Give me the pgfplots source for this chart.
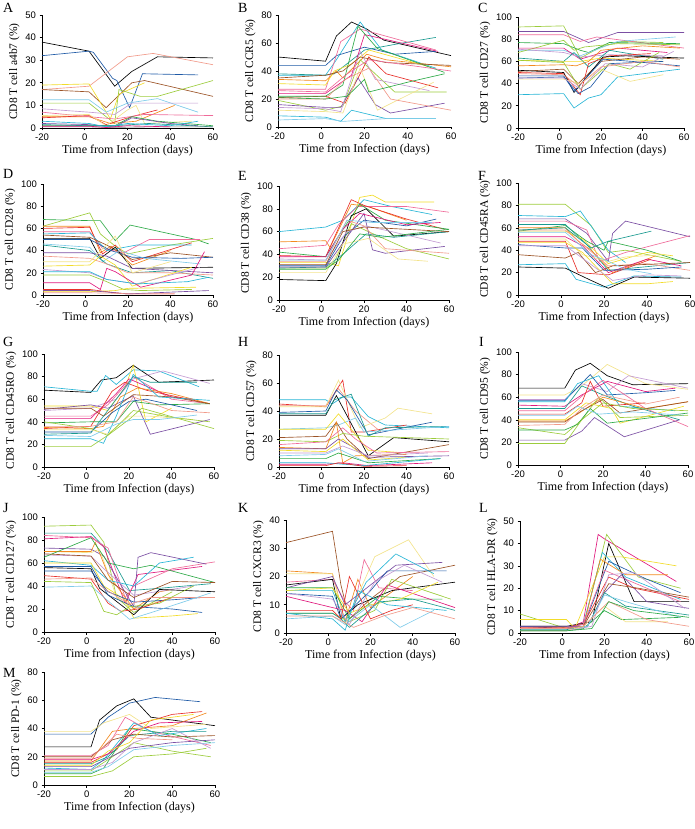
\documentclass[border=0pt]{standalone}
\usepackage{fontspec}
\setmainfont{Liberation Serif}
\newfontfamily\arial{Liberation Sans}
\usepackage{pgfplots}
\pgfplotsset{compat=1.18}
\definecolor{cK}{HTML}{000000}
\definecolor{cB}{HTML}{1F5AA6}
\definecolor{cC}{HTML}{29B6D6}
\definecolor{cLB}{HTML}{7FCBEA}
\definecolor{cT}{HTML}{1A9A90}
\definecolor{cR}{HTML}{E8302A}
\definecolor{cO}{HTML}{F28A1F}
\definecolor{cY}{HTML}{F2DC2A}
\definecolor{cLY}{HTML}{F3E38C}
\definecolor{cG}{HTML}{2EAA48}
\definecolor{cLG}{HTML}{9CCC3C}
\definecolor{cP}{HTML}{EF6B9A}
\definecolor{cM}{HTML}{E0197D}
\definecolor{cV}{HTML}{7B4FA3}
\definecolor{cLV}{HTML}{C39BD3}
\definecolor{cBr}{HTML}{9B5326}
\definecolor{cS}{HTML}{F19A8A}
\newcommand{\pl}[2]{\addplot[#1, line width=0.65pt, mark=none] coordinates {#2};}
\pgfplotsset{
  pan/.style={
    width=170pt, height=113pt, scale only axis, anchor=south west,
    xmin=-20, xmax=60, xtick={-20,0,20,40,60}, ymin=0,
    axis lines*=left, axis line style={line width=0.6pt},
    tick align=outside, major tick length=2.5pt, tick style={black, line width=0.6pt},
    /pgf/number format/assume math mode=true,
    tick label style={font=\arial\fontsize{9.5}{10}\selectfont},
    xlabel={Time from Infection (days)},
    xlabel style={font=\fontsize{12}{13}\selectfont, yshift=3pt},
    ylabel style={font=\fontsize{11.5}{12}\selectfont, yshift=-1pt},
    clip=false,
  }
}
\begin{document}
\begin{tikzpicture}
\useasboundingbox (0,0) rectangle (695pt,-829pt);
\tikzset{lett/.style={anchor=north west, font=\fontsize{14}{14}\selectfont, inner sep=0pt}}
\node[lett] at (3pt,-3pt) {A};
\node[lett] at (238pt,-3pt) {B};
\node[lett] at (478pt,-3pt) {C};
\node[lett] at (3pt,-169pt) {D};
\node[lett] at (238pt,-171pt) {E};
\node[lett] at (478pt,-171pt) {F};
\node[lett] at (3pt,-337pt) {G};
\node[lett] at (238pt,-337pt) {H};
\node[lett] at (479pt,-337pt) {I};
\node[lett] at (3pt,-503pt) {J};
\node[lett] at (238pt,-503pt) {K};
\node[lett] at (479pt,-503pt) {L};
\node[lett] at (3pt,-668pt) {M};

% ---------------- A
\begin{axis}[pan, at={(42pt,-128pt)}, width=171pt, ymax=50, ytick={0,10,...,50}, ylabel={CD8 T cell a4b7 (\%)}]
\pl{cK}{(-20,38)(2,34)(14,18.5)(22,25)(34,31.5)(60,31)}
\pl{cB}{(-20,32)(2,34)(4,33.5)(13,22)(15,21)(21,9)(27,24)(53,23.5)}
\pl{cS}{(-20,17)(2,18.5)(20,31.5)(32,33)(60,28)}
\pl{cBr}{(-20,17)(2,16)(10,9)(22,20)(28,21)(60,14)}
\pl{cY}{(-20,19)(2,19.5)(12,4)(16,15)(28,20)}
\pl{cLG}{(-20,11)(2,11)(14,2)(16,17)(26,14)(34,14)(60,21)}
\pl{cLB}{(-20,12.5)(2,12.5)(10,7)(20,11)(34,13)(53,7)}
\pl{cLV}{(-20,8.5)(2,7)(14,6)(22,11)(53,11)}
\pl{cO}{(-20,5)(2,5)(12,2)(24,3)(42,10)}
\pl{cR}{(-20,4.5)(2,5.5)(10,1.5)(22,5)(34,8)}
\pl{cP}{(-20,7)(2,5)(14,4)(28,6)(60,5.5)}
\pl{cLY}{(-20,5.5)(2,6)(10,1)(20,8)(24,10)(28,2)(50,3)}
\pl{cG}{(-20,1)(2,1)(14,1)(22,5)(34,3)(60,1)}
\pl{cV}{(-20,2)(2,1.5)(14,0.5)(22,4.5)(40,2)(53,1)}
\pl{cT}{(-20,1.5)(2,1)(14,1)(30,2)(60,0.5)}
\pl{gray}{(-20,0.5)(2,0.5)(14,0.3)(30,0.5)(60,0.5)}
\pl{cC}{(-20,3)(2,2)(10,0.5)(20,2)(40,1)(53,3)}
\pl{cM}{(-20,0.8)(2,0.8)(10,0.2)(20,1)(40,0.5)}
\end{axis}

% ---------------- B
\begin{axis}[pan, at={(278pt,-127pt)}, width=173pt, height=112pt, ymax=80, ytick={0,20,...,80}, ylabel={CD8 T cell CCR5 (\%)}]
\pl{cK}{(-20,50)(2,47)(7,65)(14,75)(21,70)(29,62)(60,51)}
\pl{cC}{(-20,37)(2,37)(7,48)(18,75)(28,55)(53,42)}
\pl{cB}{(-20,44)(2,44)(7,51)(20,57)(34,52)(53,54)}
\pl{cT}{(-20,38)(2,37)(6,38)(20,55)(34,59)(53,64)}
\pl{cP}{(-20,27)(2,27)(9,61)(18,70)(53,55)}
\pl{cM}{(-20,24)(2,24)(14,37)(20,66)(54,54)}
\pl{cO}{(-20,34)(2,33)(7,40)(10,35)(21,52)(30,48)(60,43)}
\pl{cY}{(-20,31)(2,30)(6,40)(14,45)(22,55)(50,43)}
\pl{cR}{(-20,21)(2,22)(11,17)(22,50)(30,38)(54,28)}
\pl{cG}{(-20,22)(2,22)(10,30)(17,72)(26,56)(57,39)}
\pl{cLG}{(-20,19)(2,12)(10,15)(18,48)(34,25)(58,25)}
\pl{cV}{(-20,16)(2,14)(9,14)(17,35)(25,16)(32,10)(57,17)}
\pl{cLV}{(-20,14)(2,13)(9,11)(18,54)(25,34)(50,26)}
\pl{cLY}{(-20,12)(2,11)(10,10)(18,42)(26,12)(52,32)}
\pl{cC}{(-20,8)(2,7)(9,4)(14,12)(30,6)(53,6)}
\pl{cLB}{(-20,5)(2,6)(10,4)(30,6)(53,6)}
\pl{cS}{(-20,20)(2,20)(11,34)(22,42)(32,20)(60,12)}
\pl{cBr}{(-20,35)(2,37)(10,40)(18,50)(30,46)(60,44)}
\pl{cP}{(-20,26)(2,25)(12,38)(22,48)(60,40)}
\pl{cG}{(-20,21)(2,20)(12,22)(20,34)(22,25)(40,32)(57,38)}
\end{axis}

% ---------------- C
\begin{axis}[pan, at={(518pt,-128pt)}, width=166pt, height=111pt, ymax=100, ytick={0,20,...,100}, ylabel={CD8 T cell CD27 (\%)}]
\pl{cLG}{(-20,91)(2,92)(10,63)(20,73)(30,78)(50,77)}
\pl{cV}{(-20,87)(2,87)(14,77)(28,86)(60,86)}
\pl{cP}{(-20,84)(2,84)(10,78)(18,82)(60,72)}
\pl{cG}{(-20,77)(2,76)(10,70)(14,68)(24,77)(58,76)}
\pl{cLB}{(-20,70)(2,70)(10,65)(28,78)(56,82)}
\pl{cLG}{(-20,68)(2,79)(7,70)(12,73)(28,76)(58,75)}
\pl{cM}{(-20,72)(2,72)(10,62)(28,72)(52,68)}
\pl{cLV}{(-20,71)(2,68)(10,64)(24,66)(50,65)}
\pl{cT}{(-20,63)(2,60)(7,68)(14,55)(24,70)(50,62)}
\pl{cY}{(-20,61)(2,60)(10,60)(20,63)(50,60)}
\pl{cO}{(-20,56)(2,57)(8,56)(14,60)(20,70)(40,74)(58,72)}
\pl{cBr}{(-20,51)(2,53)(9,40)(20,60)(40,64)(58,62)}
\pl{cR}{(-20,50)(2,49)(10,30)(14,58)(24,65)(44,67)}
\pl{cK}{(-20,52)(2,50)(7,32)(21,64)(32,65)(60,63)}
\pl{cB}{(-20,47)(2,47)(7,33)(21,62)(35,60)(58,56)}
\pl{cB}{(-20,45)(2,46)(9,31)(15,37)(24,58)(50,60)}
\pl{cC}{(-20,30)(2,31)(7,18)(14,27)(20,30)(28,46)(58,53)}
\pl{cLY}{(-20,44)(2,44)(10,40)(20,53)(34,42)(50,48)}
\pl{cLG}{(-20,61)(2,59)(10,35)(24,58)(34,53)(48,68)}
\pl{cLV}{(-20,45)(2,45)(10,35)(22,58)(40,55)(55,69)}
\pl{cS}{(-20,49)(2,48)(9,38)(20,55)(40,60)(58,55)}
\end{axis}

% ---------------- D
\begin{axis}[pan, at={(43pt,-295pt)}, width=170pt, height=111pt, ymax=100, ytick={0,20,...,100}, ylabel={CD8 T cell CD28 (\%)}]
\pl{cG}{(-20,68)(2,67)(7,67)(14,49)(21,63)(52,50)(58,46)}
\pl{cLG}{(-20,62)(2,74)(7,55)(14,44)(20,37)(40,45)(60,51)}
\pl{cO}{(-20,62)(2,62)(7,38)(12,44)(22,27)(40,40)}
\pl{cR}{(-20,60)(2,61)(8,37)(14,45)(22,30)(50,47)}
\pl{cP}{(-20,57)(2,57)(8,42)(18,38)(30,50)(54,50)}
\pl{cC}{(-20,55)(2,56)(10,40)(24,45)(50,45)}
\pl{cBr}{(-20,54)(2,52)(10,45)(22,32)(40,38)(60,34)}
\pl{cK}{(-20,51)(2,51)(7,33)(14,43)(22,24)(60,25)}
\pl{cB}{(-20,50)(2,50)(12,40)(22,34)(45,33)(60,34)}
\pl{cLB}{(-20,46)(2,43)(8,30)(16,40)(28,33)(54,28)}
\pl{cT}{(-20,45)(2,40)(10,28)(22,20)(40,22)(60,15)}
\pl{cV}{(-20,38)(2,38)(10,35)(22,24)(60,20)}
\pl{cS}{(-20,35)(2,33)(10,28)(20,20)(40,20)(60,18)}
\pl{cY}{(-20,26)(2,27)(7,35)(14,27)(22,8)(50,25)}
\pl{cLY}{(-20,30)(2,30)(14,53)(22,20)(40,30)}
\pl{cLV}{(-20,23)(2,20)(10,14)(24,10)(40,18)(54,25)}
\pl{cM}{(-20,11)(2,11)(7,5)(10,24)(14,21)(26,7)(50,18)(56,39)}
\pl{cLG}{(-20,18)(2,18)(10,12)(18,5)(26,4)(50,5)}
\pl{cC}{(-20,21)(2,21)(10,14)(24,10)(48,12)(58,16)}
\pl{cR}{(-20,5)(2,5)(14,2)(20,1)(42,1)}
\pl{cY}{(-20,3)(2,3)(14,4)(20,6)(52,7)}
\pl{cV}{(-20,4)(2,4)(14,2)(20,1)(58,4)}
\pl{cS}{(-20,2)(2,2)(16,1.5)(20,1)(42,1)}
\end{axis}

% ---------------- E
\begin{axis}[pan, at={(279pt,-300pt)}, width=170pt, height=114pt, ymax=100, ytick={0,20,...,100}, ylabel={CD8 T cell CD38 (\%)}]
\pl{cC}{(-20,60)(2,64)(10,70)(20,88)(33,82)(52,75)}
\pl{cO}{(-20,51)(2,52)(4,46)(14,84)(22,82)(40,70)}
\pl{cY}{(-20,33)(2,33)(8,30)(18,90)(24,92)(30,86)(53,86)}
\pl{cP}{(-20,45)(2,48)(8,66)(17,82)(40,82)(60,77)}
\pl{cR}{(-20,39)(2,38)(14,88)(20,83)(40,71)(58,62)}
\pl{cG}{(-20,42)(2,38)(8,56)(18,84)(30,70)(60,62)}
\pl{cLG}{(-20,28)(2,28)(6,33)(14,67)(22,60)(40,45)(60,36)}
\pl{cK}{(-20,18)(2,17)(7,32)(14,74)(21,80)(34,56)(60,60)}
\pl{cB}{(-20,30)(2,30)(10,55)(20,70)(40,65)(54,71)}
\pl{cT}{(-20,28)(2,29)(10,40)(21,58)(34,55)(60,60)}
\pl{cV}{(-20,29)(2,29)(10,50)(20,76)(24,44)(30,41)(58,47)}
\pl{cLV}{(-20,36)(2,35)(12,60)(21,65)(40,57)(56,50)}
\pl{cLY}{(-20,24)(2,24)(10,49)(22,54)(36,36)(50,34)}
\pl{cM}{(-20,38)(2,38)(10,62)(18,76)(40,66)(56,68)}
\pl{cBr}{(-20,31)(2,31)(10,60)(20,64)(60,60)}
\pl{cS}{(-20,34)(2,34)(12,70)(20,65)(30,45)(60,41)}
\pl{cLB}{(-20,35)(2,35)(12,70)(24,68)(52,68)}
\pl{cG}{(-20,27)(2,27)(8,35)(18,58)(28,55)(60,62)}
\end{axis}

% ---------------- F
\begin{axis}[pan, at={(518pt,-295pt)}, width=172pt, height=112pt, ymax=100, ytick={0,20,...,100}, ylabel={CD8 T cell CD45RA (\%)}]
\pl{cLG}{(-20,81)(2,81)(14,62)(22,38)(30,40)(56,30)}
\pl{cC}{(-20,71)(2,70)(9,75)(22,40)(30,29)}
\pl{cV}{(-20,68)(2,68)(12,55)(22,30)(24,55)(30,66)(60,52)}
\pl{cP}{(-20,66)(2,66)(12,58)(18,30)(30,38)(60,53)}
\pl{cG}{(-20,57)(2,62)(12,48)(20,40)(22,48)(40,40)(56,30)}
\pl{cT}{(-20,63)(2,63)(12,45)(22,22)(60,29)}
\pl{cO}{(-20,60)(2,60)(8,48)(14,40)(24,20)(44,35)}
\pl{cY}{(-20,57)(2,57)(10,50)(22,28)(40,38)(52,35)}
\pl{cS}{(-20,58)(2,58)(12,42)(22,26)(40,28)(60,22)}
\pl{cM}{(-20,52)(2,52)(10,44)(22,20)(40,32)(56,26)}
\pl{cR}{(-20,48)(2,48)(8,20)(22,18)(32,25)(42,32)}
\pl{cLY}{(-20,50)(2,50)(10,36)(22,30)(30,34)(48,36)}
\pl{cB}{(-20,45)(2,42)(10,42)(20,22)(40,23)(56,25)}
\pl{cBr}{(-20,36)(2,33)(8,38)(16,20)(24,26)(60,29)}
\pl{cC}{(-20,27)(2,28)(7,14)(20,7)(34,17)(56,16)}
\pl{cY}{(-20,47)(2,47)(10,38)(24,10)(40,10)(52,12)}
\pl{cLV}{(-20,44)(2,44)(12,30)(24,13)(40,18)(56,17)}
\pl{cLB}{(-20,56)(2,56)(14,36)(22,30)(30,23)(42,19)}
\pl{cT}{(-20,58)(2,60)(14,42)(22,48)(42,57)}
\pl{cK}{(-20,25)(2,24)(14,13)(22,6)(34,16)(60,15)}
\end{axis}

% ---------------- G
\begin{axis}[pan, at={(44pt,-467pt)}, width=170pt, height=113pt, ymax=100, ytick={0,20,...,100}, ylabel={CD8 T cell CD45RO (\%)}]
\pl{cK}{(-20,68)(2,66)(7,77)(14,79)(22,90)(34,75)(60,77)}
\pl{cC}{(-20,71)(2,67)(5,67)(9,81)(14,73)(22,86)(34,85)(53,71)}
\pl{cY}{(-20,54)(2,54)(10,50)(18,70)(22,90)(28,40)(40,52)}
\pl{cV}{(-20,51)(2,55)(10,52)(22,63)(30,29)(58,42)}
\pl{cLV}{(-20,50)(2,52)(14,60)(22,78)(36,85)(58,74)}
\pl{cP}{(-20,45)(2,45)(10,55)(22,80)(40,60)(58,56)}
\pl{cM}{(-20,43)(2,43)(14,65)(20,78)(40,62)(50,60)}
\pl{cR}{(-20,34)(2,36)(12,67)(18,75)(28,68)(58,56)}
\pl{cO}{(-20,35)(2,34)(8,36)(16,62)(24,70)(40,65)(58,56)}
\pl{cG}{(-20,39)(2,40)(14,40)(22,58)(34,55)(58,56)}
\pl{cLG}{(-20,40)(2,34)(10,28)(20,42)(26,52)(60,34)}
\pl{cBr}{(-20,52)(2,52)(8,45)(22,64)(40,62)(58,56)}
\pl{cB}{(-20,31)(2,31)(12,48)(20,58)(28,60)(52,50)}
\pl{cT}{(-20,29)(2,30)(8,45)(22,80)(30,75)(52,75)}
\pl{cC}{(-20,25)(2,25)(8,21)(14,45)(22,82)(34,62)(58,59)}
\pl{cLY}{(-20,33)(2,33)(10,29)(20,45)(30,45)(50,42)}
\pl{cLG}{(-20,18)(2,18)(10,28)(22,50)(40,44)(58,40)}
\pl{cS}{(-20,36)(2,36)(14,40)(22,62)(40,50)(58,48)}
\pl{cLB}{(-20,28)(2,27)(14,38)(22,42)(34,42)(52,46)}
\end{axis}

% ---------------- H
\begin{axis}[pan, at={(279pt,-467pt)}, width=170pt, height=112pt, ymax=80, ytick={0,20,...,80}, ylabel={CD8 T cell CD57 (\%)}]
\pl{cC}{(-20,48)(2,48)(5,45)(10,50)(14,50)(22,36)(30,30)(60,28)}
\pl{cR}{(-20,45)(2,43)(10,62)(14,25)(20,25)(40,30)}
\pl{cS}{(-20,44)(2,44)(8,56)(16,40)(28,25)}
\pl{cLY}{(-20,43)(2,43)(8,62)(18,28)(30,35)(36,42)(52,38)}
\pl{cB}{(-20,39)(2,40)(7,55)(12,48)(22,23)(52,32)}
\pl{cK}{(-20,37)(2,37)(7,51)(22,8)(34,21)(60,18)}
\pl{cT}{(-20,38)(2,38)(6,48)(14,52)(22,22)(30,28)(60,29)}
\pl{cLB}{(-20,27)(2,28)(8,30)(16,35)(20,25)(60,29)}
\pl{cY}{(-20,27)(2,27)(8,38)(22,12)(40,10)}
\pl{cBr}{(-20,21)(2,22)(7,32)(12,20)(22,6)(60,16)}
\pl{cLG}{(-20,19)(2,18)(10,24)(20,22)(60,20)}
\pl{cP}{(-20,16)(2,18)(10,28)(16,20)(26,10)(60,11)}
\pl{cO}{(-20,14)(2,13)(7,32)(10,3)(16,8)(40,9)}
\pl{cV}{(-20,13)(2,13)(8,20)(14,15)(22,7)(60,8)}
\pl{cY}{(-20,12)(2,11)(10,20)(22,5)(40,7)}
\pl{cLV}{(-20,10)(2,10)(10,15)(22,8)(50,10)}
\pl{cG}{(-20,6)(2,6)(8,10)(22,3)(56,6)}
\pl{cLB}{(-20,8)(2,9)(8,13)(20,4)(50,8)}
\pl{cM}{(-20,2)(2,2)(10,3)(22,1)(52,3)}
\pl{cC}{(-20,3)(2,3)(10,2)(20,1)(56,6)}
\pl{cR}{(-20,1)(2,1)(8,3)(20,0.5)(40,1)}
\end{axis}

% ---------------- I
\begin{axis}[pan, at={(518pt,-465pt)}, width=170pt, height=113pt, ymax=100, ytick={0,20,...,100}, ylabel={CD8 T cell CD95 (\%)}]
\pl{cK}{(-20,68)(2,68)(7,84)(14,90)(22,79)(34,71)(60,72)}
\pl{cLY}{(-20,62)(2,62)(10,70)(22,89)(40,72)(60,67)}
\pl{cLV}{(-20,58)(2,58)(10,72)(22,65)(32,79)(60,68)}
\pl{cB}{(-20,57)(2,57)(14,80)(22,62)(40,64)(54,66)}
\pl{cC}{(-20,56)(2,56)(8,72)(18,79)(28,52)(54,48)}
\pl{cM}{(-20,53)(2,52)(10,62)(22,74)(40,65)(54,68)}
\pl{cT}{(-20,50)(2,50)(10,70)(20,62)(34,52)(56,40)}
\pl{cP}{(-20,48)(2,48)(12,64)(20,75)(40,50)(60,34)}
\pl{cR}{(-20,45)(2,45)(10,55)(14,74)(20,52)(40,55)}
\pl{cO}{(-20,39)(2,39)(8,45)(20,60)(40,50)(60,56)}
\pl{cBr}{(-20,38)(2,38)(10,48)(20,58)(28,46)(60,56)}
\pl{cY}{(-20,40)(2,40)(12,55)(24,50)(28,37)(58,52)}
\pl{cLG}{(-20,33)(2,27)(10,40)(18,60)(28,42)(60,44)}
\pl{cG}{(-20,31)(2,31)(8,36)(14,50)(22,37)(60,46)}
\pl{cV}{(-20,22)(2,22)(10,30)(16,42)(30,25)(56,40)}
\pl{cLG}{(-20,19)(2,19)(10,40)(20,55)(34,50)(60,48)}
\pl{cS}{(-20,35)(2,36)(10,50)(20,62)(40,54)(56,60)}
\pl{cLB}{(-20,44)(2,44)(8,52)(18,45)(34,47)(58,44)}
\end{axis}

% ---------------- J
\begin{axis}[pan, at={(44pt,-632pt)}, width=171pt, height=115pt, ymax=100, ytick={0,20,...,100}, ylabel={CD8 T cell CD127 (\%)}]
\pl{cLG}{(-20,92)(2,93)(8,78)(14,30)(22,17)(40,35)}
\pl{cT}{(-20,86)(2,86)(10,70)(20,36)(34,38)(58,42)}
\pl{cM}{(-20,81)(2,83)(8,74)(18,25)(24,50)(54,57)}
\pl{cP}{(-20,84)(2,82)(10,73)(18,30)(22,40)(40,55)(60,61)}
\pl{cV}{(-20,73)(2,72)(8,66)(22,22)(24,65)(30,69)(56,59)}
\pl{cLY}{(-20,70)(2,69)(6,72)(14,30)(22,20)(40,30)}
\pl{cO}{(-20,70)(2,70)(4,78)(10,50)(22,20)(34,35)(40,37)}
\pl{cLV}{(-20,67)(2,66)(8,55)(22,32)(50,40)}
\pl{cG}{(-20,65)(2,82)(10,60)(22,55)(30,58)(60,43)}
\pl{cC}{(-20,62)(2,58)(10,45)(22,40)(34,60)(50,65)}
\pl{cY}{(-20,60)(2,60)(8,40)(18,28)(22,12)(40,14)(52,16)}
\pl{cK}{(-20,56)(2,55)(6,38)(22,15)(34,37)(60,35)}
\pl{cB}{(-20,57)(2,57)(10,32)(22,22)(40,20)(54,17)}
\pl{cB}{(-20,53)(2,53)(10,35)(22,26)(40,28)(54,30)}
\pl{cR}{(-20,49)(2,46)(10,25)(16,18)(24,20)(40,30)}
\pl{cS}{(-20,46)(2,47)(8,38)(20,24)(30,30)(60,30)}
\pl{cLB}{(-20,39)(2,40)(10,27)(20,11)(32,18)(58,34)}
\pl{cLG}{(-20,44)(2,43)(8,18)(14,15)(20,22)(34,25)(50,40)}
\pl{cBr}{(-20,68)(2,66)(10,45)(22,30)(40,44)(60,43)}
\end{axis}

% ---------------- K
\begin{axis}[pan, at={(286pt,-633pt)}, width=169pt, height=113pt, ymax=40, ytick={0,10,...,40}, ylabel={CD8 T cell CXCR3 (\%)}]
\pl{cBr}{(-20,32)(2,36)(6,17)(10,5)(20,12)(34,20)(60,24)}
\pl{cO}{(-20,22)(2,21)(8,4)(14,19)(20,9)(40,20)}
\pl{cLY}{(-20,21)(2,21)(8,3)(22,27)(38,33)(50,20)}
\pl{cP}{(-20,18)(2,19)(8,11)(12,8)(17,26)(24,16)(40,15)}
\pl{cK}{(-20,17)(2,19)(6,5)(14,10)(30,15)(60,18)}
\pl{cV}{(-20,16)(2,20)(8,10)(20,17)(32,24)(54,25)}
\pl{cC}{(-20,15)(2,15)(8,4)(18,18)(32,28)(50,21)}
\pl{cB}{(-20,14)(2,13)(6,5)(20,15)(28,22)(56,22)}
\pl{cG}{(-20,16)(2,16)(10,5)(24,13)(40,12)(54,12)}
\pl{cM}{(-20,13)(2,9)(8,8)(16,4)(28,17)(60,9)}
\pl{cY}{(-20,15)(2,16)(10,7)(20,10)(34,12)(52,18)}
\pl{cLG}{(-20,7)(2,7)(10,4)(22,8)(30,19)(58,12)}
\pl{cT}{(-20,7)(2,7)(6,5)(10,2)(24,11)(40,12)(60,8)}
\pl{cLB}{(-20,5)(2,6)(8,3)(20,10)(34,2)(50,8)}
\pl{cR}{(-20,8)(2,8)(6,5)(10,20)(20,5)(30,8)(40,10)}
\pl{cC}{(-20,7)(2,5)(8,1)(14,15)(28,10)(56,8)}
\pl{cLV}{(-20,14)(2,12)(10,3)(22,18)(36,24)(54,18)}
\pl{cS}{(-20,6)(2,6)(12,2)(26,6)(40,9)(60,5)}
\end{axis}

% ---------------- L
\begin{axis}[pan, at={(520pt,-633pt)}, width=169pt, height=112pt, ymax=50, ytick={0,10,...,50}, ylabel={CD8 T cell HLA-DR (\%)}]
\pl{cM}{(-20,2)(2,2)(10,5)(17,44)(20,42)(54,23)}
\pl{cLG}{(-20,8.5)(2,2)(10,3)(21,44)(36,25)(56,20)}
\pl{cK}{(-20,3)(2,3)(14,5)(22,40)(34,14)(60,14)}
\pl{cY}{(-20,6)(2,6)(6,2)(20,34)(28,34)(54,30)}
\pl{cG}{(-20,1)(2,1)(10,2)(20,10)(28,6)(56,7)}
\pl{cC}{(-20,2)(2,2)(10,4)(19,36)(30,25)(56,15)}
\pl{cB}{(-20,3)(2,2)(10,3)(22,32)(40,24)(56,18)}
\pl{cO}{(-20,2)(2,2)(10,3)(18,33)(30,26)(50,26)}
\pl{cR}{(-20,2.5)(2,2.5)(10,4)(22,25)(34,20)(60,15)}
\pl{cP}{(-20,2)(2,2)(10,4)(20,28)(40,20)(56,14)}
\pl{cV}{(-20,3)(2,3)(12,3)(20,18)(28,26)(40,14)(60,11)}
\pl{cT}{(-20,1.5)(2,1.5)(12,3)(20,18)(30,12)(60,8)}
\pl{cLB}{(-20,2)(2,2)(12,3)(20,17)(30,14)(56,7)}
\pl{cBr}{(-20,2)(2,2)(10,3)(22,22)(36,20)(60,16)}
\pl{cLY}{(-20,1)(2,1)(10,3)(20,12)(30,5)(50,5)}
\pl{cLV}{(-20,1)(2,1)(14,3)(22,26)(34,27)(58,11)}
\pl{cS}{(-20,2)(2,2)(10,3)(22,14)(40,6)(60,3)}
\pl{cG}{(-20,1)(2,1)(14,2)(22,14)(34,10)(60,7)}
\end{axis}

% ---------------- M
\begin{axis}[pan, at={(44pt,-785pt)}, width=171pt, height=113pt, ymax=80, ytick={0,20,...,80}, ylabel={CD8 T cell PD-1 (\%)}]
\pl{cB}{(-20,36)(2,36)(10,48)(20,58)(32,62)(53,59)}
\pl{cK}{(-20,27)(2,27)(6,46)(14,56)(22,61)(30,48)(60,42)}
\pl{cLY}{(-20,38)(2,38)(8,44)(20,50)(30,40)(56,43)}
\pl{cO}{(-20,17)(2,17)(12,38)(22,40)(40,42)(56,51)}
\pl{cR}{(-20,16)(2,16)(14,25)(22,42)(40,50)(54,52)}
\pl{cP}{(-20,21)(2,21)(10,28)(18,48)(30,38)(58,28)}
\pl{cG}{(-20,8)(2,8)(8,12)(20,40)(40,36)(58,30)}
\pl{cLG}{(-20,10)(2,10)(12,20)(22,30)(40,24)(58,20)}
\pl{cC}{(-20,12)(2,11)(8,18)(22,44)(34,35)(56,40)}
\pl{cV}{(-20,13)(2,13)(14,22)(20,26)(40,30)(60,32)}
\pl{cT}{(-20,15)(2,15)(10,20)(20,35)(40,38)(56,38)}
\pl{cLB}{(-20,9)(2,9)(10,13)(22,25)(40,28)(60,30)}
\pl{cM}{(-20,18)(2,18)(10,22)(22,38)(34,44)(54,45)}
\pl{cBr}{(-20,20)(2,20)(12,32)(22,36)(40,34)(60,35)}
\pl{cY}{(-20,14)(2,14)(10,24)(20,30)(30,46)(50,50)}
\pl{cLV}{(-20,11)(2,11)(12,16)(22,30)(40,40)(58,26)}
\pl{cS}{(-20,19)(2,19)(14,36)(24,33)(40,32)}
\pl{cLG}{(-20,6)(2,6)(12,10)(22,20)(40,22)(56,26)}
\end{axis}
\end{tikzpicture}
\end{document}
